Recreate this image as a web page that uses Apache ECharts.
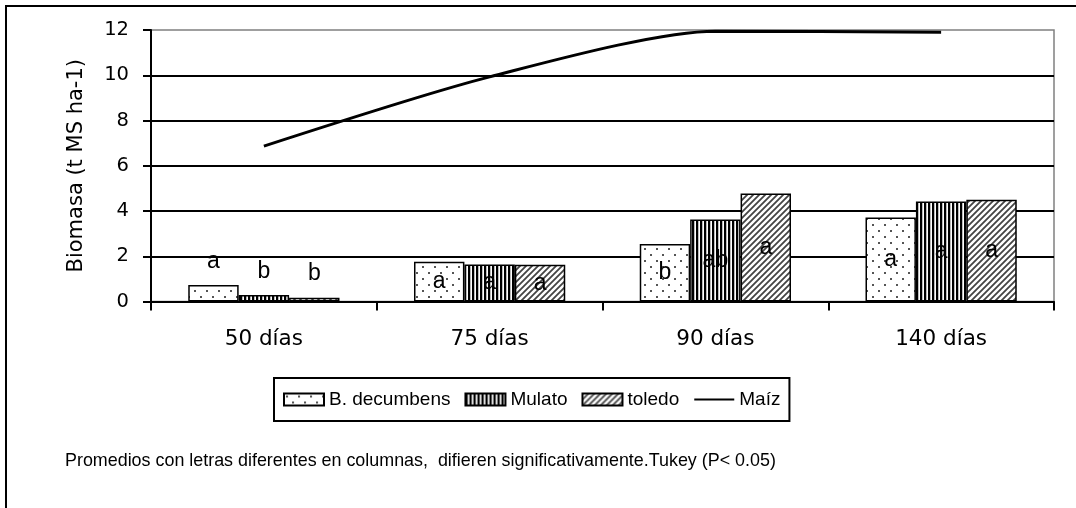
<!DOCTYPE html>
<html>
<head>
<meta charset="utf-8">
<script src="https://cdn.jsdelivr.net/npm/echarts@6/dist/echarts.min.js"></script>
<style>
html,body{margin:0;padding:0;background:#fff;}
#c{width:1076px;height:508px;}
</style>
</head>
<body>
<div id="c"></div>
<script>
const categories = ['50 días', '75 días', '90 días', '140 días'];
const bDecumbens = [0.73, 1.76, 2.54, 3.71];
const mulato = [0.29, 1.63, 3.62, 4.42];
const toledo = [0.17, 1.62, 4.77, 4.50];
const maiz = [6.87, 9.93, 11.95, 11.9];
const lettersBD = ['a', 'a', 'b', 'a'];
const lettersMulato = ['b', 'a', 'ab', 'a'];
const lettersToledo = ['b', 'a', 'a', 'a'];
const seriesNames = ['B. decumbens', 'Mulato', 'toledo', 'Maíz'];
const yMin = 0, yMax = 12, yStep = 2;
const yAxisName = 'Biomasa (t MS ha-1)';
const footnote = 'Promedios con letras diferentes en columnas,  difieren significativamente.Tukey (P< 0.05)';

function makeTile(w, h, draw) {
  const cv = document.createElement('canvas');
  cv.width = w; cv.height = h;
  const ctx = cv.getContext('2d');
  ctx.fillStyle = '#fff';
  ctx.fillRect(0, 0, w, h);
  draw(ctx);
  return { image: cv, repeat: 'repeat' };
}
const dotsPattern = makeTile(12, 12, ctx => {
  ctx.fillStyle = '#555';
  ctx.fillRect(2, 2, 2, 2);
  ctx.fillRect(8, 8, 2, 2);
});
const stripePattern = makeTile(4, 4, ctx => {
  ctx.fillStyle = '#000';
  ctx.fillRect(0, 0, 2, 4);
  ctx.fillStyle = '#bbb';
  ctx.fillRect(2, 0, 1, 4);
});
const hatchPattern = makeTile(6, 6, ctx => {
  ctx.strokeStyle = '#444';
  ctx.lineWidth = 1.8;
  ctx.beginPath();
  ctx.moveTo(-1, 7); ctx.lineTo(7, -1);
  ctx.moveTo(-1, 1); ctx.lineTo(1, -1);
  ctx.moveTo(5, 7); ctx.lineTo(7, 5);
  ctx.stroke();
});

const letterFont = { color: '#000', fontFamily: 'Liberation Sans, Arial, sans-serif', fontSize: 23 };

function barData(values, letters) {
  return values.map((v, i) => ({
    value: v,
    label: Object.assign({
      show: true,
      formatter: letters[i],
      position: i === 0 ? 'top' : 'inside',
      distance: 12
    }, letterFont)
  }));
}

const barItem = (pattern) => ({ color: pattern, borderColor: '#000', borderWidth: 1.5 });

const chart = echarts.init(document.getElementById('c'), null, { renderer: 'canvas' });
chart.setOption({
  animation: false,
  backgroundColor: '#fff',
  grid: {
    left: 151, right: 22, top: 30, bottom: 206.5,
    show: true, borderColor: '#808080', borderWidth: 1.5, backgroundColor: '#fff'
  },
  legend: {
    data: [
      { name: seriesNames[0], icon: 'rect' },
      { name: seriesNames[1], icon: 'rect' },
      { name: seriesNames[2], icon: 'rect' },
      { name: seriesNames[3], itemStyle: { opacity: 0 } }
    ],
    left: 274, top: 378,
    padding: [12, 9, 12, 9],
    itemGap: 14,
    itemWidth: 40,
    itemHeight: 12,
    borderColor: '#000',
    borderWidth: 2,
    textStyle: { color: '#000', fontFamily: 'Liberation Sans, Arial, sans-serif', fontSize: 19 }
  },
  xAxis: {
    type: 'category',
    data: categories,
    axisLine: { lineStyle: { color: '#000', width: 2 } },
    axisTick: { show: true, length: 9, lineStyle: { color: '#000', width: 2 } },
    axisLabel: { color: '#000', fontFamily: 'DejaVu Sans, sans-serif', fontSize: 21.5, margin: 27 }
  },
  yAxis: {
    type: 'value',
    min: yMin, max: yMax, interval: yStep,
    name: yAxisName,
    nameLocation: 'middle',
    nameGap: 64,
    nameTextStyle: { color: '#000', fontFamily: 'DejaVu Sans, sans-serif', fontSize: 21 },
    axisLine: { show: true, lineStyle: { color: '#000', width: 2 } },
    axisTick: { show: true, length: 8, lineStyle: { color: '#000', width: 2 } },
    axisLabel: { color: '#000', fontFamily: 'DejaVu Sans, sans-serif', fontSize: 19.5, margin: 22 },
    splitLine: { show: true, showMaxLine: false, lineStyle: { color: '#000', width: 2 } }
  },
  graphic: [
    {
      type: 'rect', silent: true, z: 100,
      shape: { x: 6, y: 6, width: 1300, height: 1000 },
      style: { fill: 'none', stroke: '#000', lineWidth: 2 }
    },
    {
      type: 'text', left: 65, top: 452,
      style: { text: footnote, fill: '#000', font: '17.9px "Liberation Sans", Arial, sans-serif' }
    }
  ],
  series: [
    {
      name: seriesNames[0], type: 'bar', barGap: '0%', barCategoryGap: '33%',
      data: barData(bDecumbens, lettersBD),
      itemStyle: barItem(dotsPattern)
    },
    {
      name: seriesNames[1], type: 'bar', barGap: '0%', barCategoryGap: '33%',
      data: barData(mulato, lettersMulato),
      itemStyle: barItem(stripePattern)
    },
    {
      name: seriesNames[2], type: 'bar', barGap: '0%', barCategoryGap: '33%',
      data: barData(toledo, lettersToledo),
      itemStyle: barItem(hatchPattern)
    },
    {
      name: seriesNames[3], type: 'line', data: maiz,
      smooth: 0.25, symbol: 'none', clip: true, z: 5,
      lineStyle: { color: '#000', width: 3 },
      itemStyle: { color: '#000' }
    }
  ]
});
</script>
</body>
</html>
